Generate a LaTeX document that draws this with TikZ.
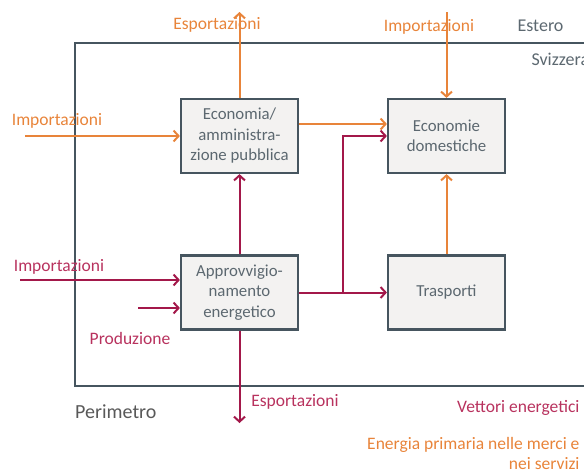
\documentclass[tikz,border=0pt]{standalone}
\usepackage{fontspec}
\setmainfont{Carlito}
\usetikzlibrary{arrows.meta}
\usetikzlibrary{positioning}

\definecolor{arancio}{HTML}{E8843A}
\definecolor{cremisi}{HTML}{A3184A}
\definecolor{cremisitxt}{HTML}{B8325E}
\definecolor{bordo}{HTML}{46555F}
\definecolor{grigiotxt}{HTML}{5C6870}
\definecolor{sfondo}{HTML}{F3F2F1}

\tikzset{
  settore/.style={draw=bordo, line width=2.2pt, fill=sfondo, minimum width=117pt,
    minimum height=74pt, align=center, text=grigiotxt, font=\fontsize{16.8}{20.5}\selectfont},
  flussoA/.style={draw=arancio, line width=2pt, -{Straight Barb[length=5pt,width=11pt]}},
  flussoV/.style={draw=cremisi, line width=2pt, -{Straight Barb[length=5pt,width=11pt]}},
  etA/.style={text=arancio, font=\fontsize{17.5}{20}\selectfont},
  etV/.style={text=cremisitxt, font=\fontsize{17.5}{20}\selectfont},
  etG/.style={text=grigiotxt, font=\fontsize{18}{21}\selectfont}
}

\begin{document}
\begin{tikzpicture}[x=1pt, y=-1pt]
      \useasboundingbox (0,0) rectangle (584,472);
      % perimetro
      \draw[bordo, line width=2.4pt] (584,43) -- (75,43) -- (75,386) -- (584,386);
      \node[etG, anchor=east] (estero) at (567, 26) {Estero};
      \node[etG, anchor=west] (svizzera) at (528, 59) {Svizzera};
      \node[text=black!65, font=\fontsize{20}{22}\selectfont, anchor=west, inner sep=0pt] (perimetro) at (75, 412) {Perimetro};

      \node[settore] (economia) at (239.5, 136) {Economia/\\amministra-\\zione pubblica};
      \node[settore] (domestiche) at (446.5, 136) {Economie\\domestiche};
      \node[settore] (approv) at (239.5, 292.5) {Approvvigio-\\namento\\energetico};
      \node[settore] (trasporti) at (446.5, 292.5) {Trasporti};

      % estremi liberi
      \coordinate (espA) at (239.5, 12);
      \coordinate (impA) at (446.5, 12);
      \coordinate (impAsx) at (25, 136);
      \coordinate (impV) at (20, 280);
      \coordinate (prod) at (138, 308);
      \coordinate (espV) at (239.5, 423);
      \coordinate (nodo) at (343, 292.5);

      % energia primaria
      \draw[flussoA] (economia.north) -- (espA);
      \draw[flussoA] (impA) -- (domestiche.north);
      \draw[flussoA] (impAsx) -- (impAsx -| economia.west);
      \draw[flussoA] ([yshift=12pt]economia.east) -- ([yshift=12pt]domestiche.west);
      \draw[flussoA] (trasporti.north) -- (domestiche.south);

      % vettori energetici
      \draw[flussoV] (approv.north) -- (economia.south);
      \draw[flussoV] (impV) -- (impV -| approv.west);
      \draw[flussoV] (prod) -- (prod -| approv.west);
      \draw[flussoV] (approv.south) -- (espV);
      \draw[flussoV] (approv.east) -- (trasporti.west);
      \draw[flussoV] (nodo) |- (domestiche.west);

      \node[etA] (lEspA) at (217, 25) {Esportazioni};
      \node[etA] (lImpA) at (429, 27) {Importazioni};
      \node[etA] (lImpAsx) at (57, 121) {Importazioni};
      \node[etV] (lImpV) at (59, 267) {Importazioni};
      \node[etV] (lProd) at (130, 338) {Produzione};
      \node[etV] (lEspV) at (295, 402) {Esportazioni};
      \node[etV, anchor=east] (lVett) at (583, 408) {Vettori energetici};
      \node[etA, anchor=east, align=right] (lPrim) at (583, 453)
            {Energia primaria nelle merci e\\nei servizi};
  \end{tikzpicture}
\end{document}
